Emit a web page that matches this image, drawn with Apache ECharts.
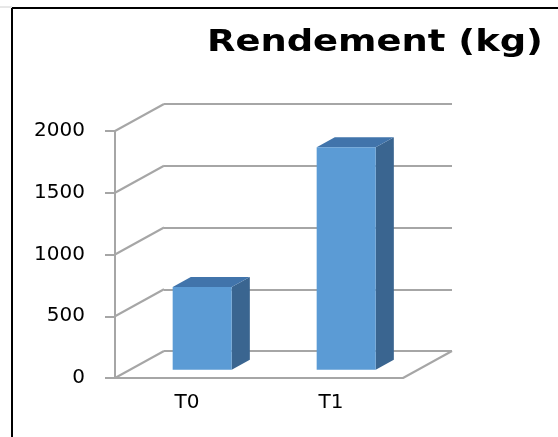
<!DOCTYPE html>
<html>
<head>
<meta charset="utf-8">
<script src="https://cdn.jsdelivr.net/npm/echarts@6/dist/echarts.min.js"></script>
<style>
  html, body { margin: 0; padding: 0; background: #fff; }
  #chart { width: 558px; height: 437px; }
</style>
</head>
<body>
<div id="chart"></div>
<script>
// data
var categories = ['T0', 'T1'];
var rendement = [670, 1800];
var yTicks = [0, 500, 1000, 1500, 2000];

// 3d look: offset of the back wall from the front plane
var DX = 49, DY = 27;
var BAR_FRONT = 0.31, BAR_BACK = 0.68, BAR_RATIO = 0.41;
var GRID_COLOR = '#a6a6a6';
var LABEL_FONT = 'DejaVu Sans';

var chart = echarts.init(document.getElementById('chart'));

function renderWalls(params, api) {
    var sys = params.coordSys;
    var y = api.coord([0, api.value(1)])[1];
    var children = [{
        type: 'line',
        shape: {x1: sys.x, y1: y, x2: sys.x + DX, y2: y - DY},
        style: {stroke: GRID_COLOR, lineWidth: 2}
    }];
    // right edge of the floor
    if (api.value(1) === 0) {
        var xr = sys.x + sys.width;
        children.push({
            type: 'line',
            shape: {x1: xr, y1: y, x2: xr + DX, y2: y - DY},
            style: {stroke: GRID_COLOR, lineWidth: 2}
        });
    }
    return {type: 'group', children: children};
}

function renderBar(params, api) {
    var idx = api.value(0), val = api.value(1);
    var base = api.coord([idx, 0]);
    var top = api.coord([idx, val]);
    var bw = api.size([1, 0])[0] * BAR_RATIO;
    var x0 = base[0] - bw / 2, x1 = base[0] + bw / 2;
    var fx = DX * BAR_FRONT, fy = -DY * BAR_FRONT;
    var bx = DX * BAR_BACK, by = -DY * BAR_BACK;
    return {
        type: 'group',
        children: [{
            type: 'polygon',
            shape: {points: [[x1 + fx, top[1] + fy], [x1 + bx, top[1] + by], [x1 + bx, base[1] + by], [x1 + fx, base[1] + fy]]},
            style: {fill: '#3a6590'}
        }, {
            type: 'polygon',
            shape: {points: [[x0 + fx, top[1] + fy], [x1 + fx, top[1] + fy], [x1 + bx, top[1] + by], [x0 + bx, top[1] + by]]},
            style: {fill: '#4174ab'}
        }, {
            type: 'rect',
            shape: {x: x0 + fx, y: top[1] + fy, width: bw, height: base[1] - top[1]},
            style: {fill: '#5b9bd5'}
        }]
    };
}

var option = {
    animation: false,
    backgroundColor: '#fff',
    graphic: [
        {type: 'line', shape: {x1: 0, y1: 7, x2: 12, y2: 7}, style: {stroke: '#d0d0d0', lineWidth: 1}},
        {type: 'line', shape: {x1: 12, y1: 8, x2: 558, y2: 8}, style: {stroke: '#000', lineWidth: 2}},
        {type: 'line', shape: {x1: 12, y1: 8, x2: 12, y2: 437}, style: {stroke: '#000', lineWidth: 2}},
        {
            type: 'text',
            x: 207,
            y: 27,
            scaleX: 1.19,
            style: {text: 'Rendement (kg)', font: 'bold 31px "DejaVu Sans"', fill: '#000', textVerticalAlign: 'top'}
        }
    ],
    grid: [
        {left: 115, top: 131, width: 288, height: 247},
        {left: 115 + DX, top: 131 - DY, width: 288, height: 247}
    ],
    xAxis: [{
        type: 'category',
        gridIndex: 0,
        data: categories,
        axisLine: {lineStyle: {color: GRID_COLOR, width: 2}},
        axisTick: {length: 6, lineStyle: {color: GRID_COLOR, width: 2}},
        axisLabel: {color: '#000', fontFamily: LABEL_FONT, fontSize: 20, margin: 15}
    }, {
        type: 'category',
        gridIndex: 1,
        data: categories,
        show: false
    }],
    yAxis: [{
        type: 'value',
        gridIndex: 0,
        min: 0,
        max: 2000,
        interval: 500,
        axisLine: {show: true, lineStyle: {color: GRID_COLOR, width: 2}},
        axisTick: {show: true, length: 10, lineStyle: {color: GRID_COLOR, width: 2}},
        splitLine: {show: false},
        axisLabel: {
            color: '#000', fontFamily: LABEL_FONT, fontSize: 20, margin: 30,
            formatter: function(v) { return String(v); }
        }
    }, {
        type: 'value',
        gridIndex: 1,
        min: 0,
        max: 2000,
        interval: 500,
        axisLine: {show: false},
        axisTick: {show: false},
        axisLabel: {show: false},
        splitLine: {show: true, lineStyle: {color: GRID_COLOR, width: 2}}
    }],
    series: [{
        type: 'custom',
        xAxisIndex: 0,
        yAxisIndex: 0,
        renderItem: renderWalls,
        data: yTicks.map(function(v) { return [0, v]; }),
        z: 1
    }, {
        type: 'custom',
        xAxisIndex: 0,
        yAxisIndex: 0,
        renderItem: renderBar,
        data: rendement.map(function(v, i) { return [i, v]; }),
        z: 5
    }]
};

chart.setOption(option);
</script>
</body>
</html>
